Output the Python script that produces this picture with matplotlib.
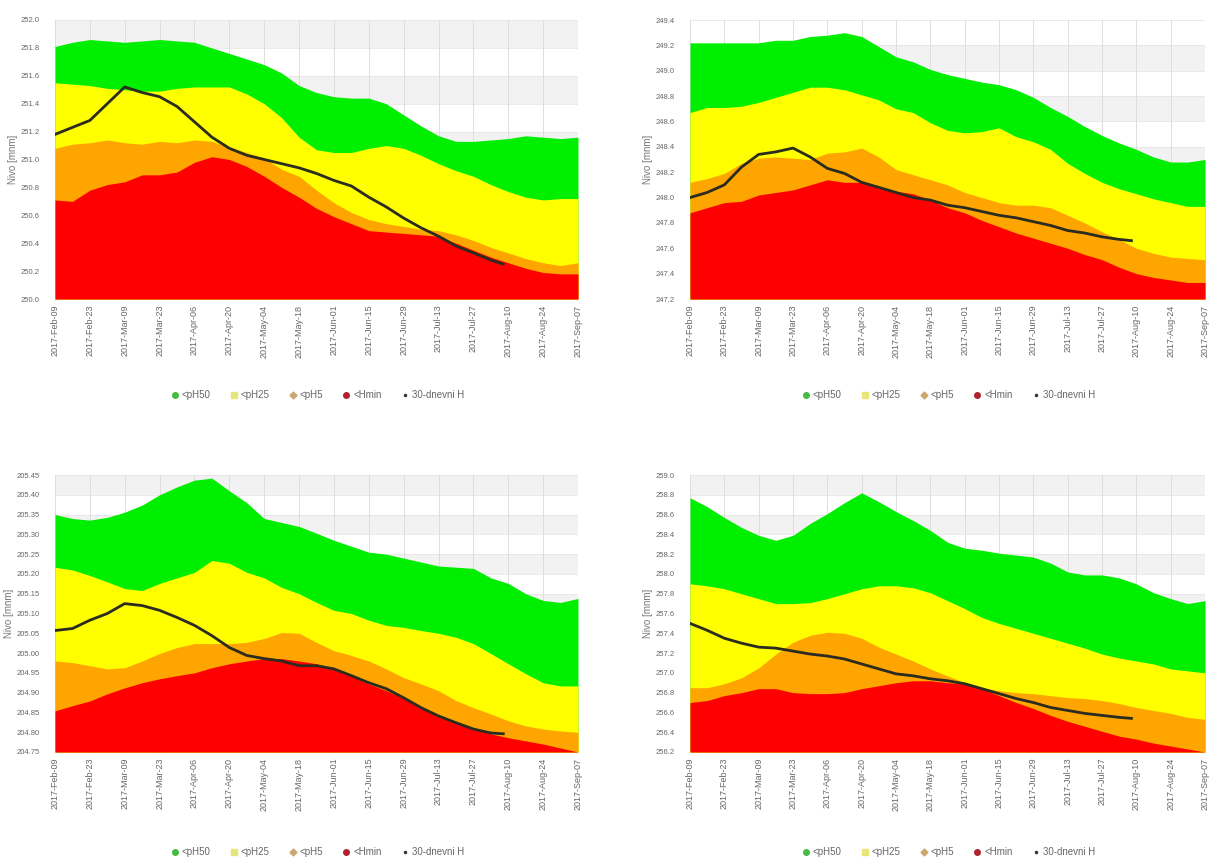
import matplotlib
matplotlib.use('Agg')
import matplotlib.pyplot as plt
from matplotlib.lines import Line2D
import numpy as np

plt.rcParams['font.family'] = ['Liberation Sans', 'DejaVu Sans']

# x os: dnevi od 2017-Feb-09, tedenski vzorci
days = np.arange(0, 211, 7)
line_days = np.append(np.arange(0, 176, 7), 180)
tick_days = np.arange(0, 211, 14)
tick_labels = ['2017-Feb-09', '2017-Feb-23', '2017-Mar-09', '2017-Mar-23', '2017-Apr-06',
               '2017-Apr-20', '2017-May-04', '2017-May-18', '2017-Jun-01', '2017-Jun-15',
               '2017-Jun-29', '2017-Jul-13', '2017-Jul-27', '2017-Aug-10', '2017-Aug-24',
               '2017-Sep-07']
series_names = ['<pH50', '<pH25', '<pH5', '<Hmin', '30-dnevni H']

# graf 1 (levo zgoraj)
p1_ph50 = [251.81, 251.84, 251.86, 251.85, 251.84, 251.85, 251.86, 251.85, 251.84, 251.80, 251.76,
           251.72, 251.68, 251.62, 251.53, 251.48, 251.45, 251.44, 251.44, 251.40, 251.32, 251.24,
           251.17, 251.13, 251.13, 251.14, 251.15, 251.17, 251.16, 251.15, 251.16]
p1_ph25 = [251.55, 251.54, 251.53, 251.51, 251.50, 251.49, 251.49, 251.51, 251.52, 251.52, 251.52,
           251.47, 251.40, 251.30, 251.16, 251.07, 251.05, 251.05, 251.08, 251.10, 251.08, 251.03,
           250.97, 250.92, 250.88, 250.82, 250.77, 250.73, 250.71, 250.72, 250.72]
p1_ph5 = [251.08, 251.11, 251.12, 251.14, 251.12, 251.11, 251.13, 251.12, 251.14, 251.13, 251.09,
          251.05, 251.01, 250.93, 250.88, 250.78, 250.69, 250.62, 250.57, 250.54, 250.52, 250.50,
          250.49, 250.46, 250.42, 250.37, 250.33, 250.29, 250.26, 250.24, 250.26]
p1_hmin = [250.71, 250.70, 250.78, 250.82, 250.84, 250.89, 250.89, 250.91, 250.98, 251.02, 251.00,
           250.95, 250.88, 250.80, 250.73, 250.65, 250.59, 250.54, 250.49, 250.48, 250.47, 250.46,
           250.45, 250.40, 250.35, 250.30, 250.26, 250.22, 250.19, 250.18, 250.18]
p1_h30 = [251.18, 251.23, 251.28, 251.40, 251.52, 251.48, 251.45, 251.38, 251.27, 251.16, 251.08,
          251.03, 251.00, 250.97, 250.94, 250.90, 250.85, 250.81, 250.73, 250.66, 250.58, 250.51,
          250.45, 250.38, 250.33, 250.28, 250.25]

# graf 2 (desno zgoraj)
p2_ph50 = [249.22, 249.22, 249.22, 249.22, 249.22, 249.24, 249.24, 249.27, 249.28, 249.30, 249.27,
           249.19, 249.11, 249.07, 249.01, 248.97, 248.94, 248.91, 248.89, 248.85, 248.79, 248.71,
           248.64, 248.56, 248.49, 248.43, 248.38, 248.32, 248.28, 248.28, 248.30]
p2_ph25 = [248.67, 248.71, 248.71, 248.72, 248.75, 248.79, 248.83, 248.87, 248.87, 248.85, 248.81,
           248.77, 248.70, 248.67, 248.59, 248.53, 248.51, 248.52, 248.55, 248.48, 248.44, 248.38,
           248.27, 248.19, 248.12, 248.07, 248.03, 247.99, 247.96, 247.93, 247.93]
p2_ph5 = [248.12, 248.15, 248.19, 248.27, 248.31, 248.32, 248.31, 248.30, 248.35, 248.36, 248.39,
          248.32, 248.22, 248.18, 248.14, 248.10, 248.04, 248.00, 247.96, 247.94, 247.94, 247.92,
          247.86, 247.80, 247.73, 247.67, 247.60, 247.56, 247.53, 247.52, 247.51]
p2_hmin = [247.88, 247.92, 247.96, 247.97, 248.02, 248.04, 248.06, 248.10, 248.14, 248.12, 248.12,
           248.08, 248.05, 248.03, 247.98, 247.92, 247.88, 247.82, 247.77, 247.72, 247.68, 247.64,
           247.60, 247.55, 247.51, 247.45, 247.40, 247.37, 247.35, 247.33, 247.33]
p2_h30 = [248.00, 248.04, 248.10, 248.24, 248.34, 248.36, 248.39, 248.32, 248.23, 248.19, 248.12,
          248.08, 248.04, 248.00, 247.98, 247.94, 247.92, 247.89, 247.86, 247.84, 247.81, 247.78,
          247.74, 247.72, 247.69, 247.67, 247.66]

# graf 3 (levo spodaj)
p3_ph50 = [205.350, 205.340, 205.336, 205.343, 205.356, 205.374, 205.400, 205.420, 205.437, 205.442,
           205.410, 205.380, 205.340, 205.330, 205.320, 205.303, 205.285, 205.270, 205.255, 205.250,
           205.240, 205.230, 205.220, 205.217, 205.214, 205.190, 205.176, 205.150, 205.133, 205.128,
           205.138]
p3_ph25 = [205.217, 205.210, 205.196, 205.180, 205.163, 205.158, 205.176, 205.190, 205.204, 205.234,
           205.227, 205.204, 205.190, 205.166, 205.150, 205.128, 205.108, 205.100, 205.083, 205.070,
           205.065, 205.057, 205.050, 205.040, 205.024, 204.999, 204.973, 204.948, 204.925, 204.917,
           204.917]
p3_ph5 = [204.980, 204.976, 204.968, 204.960, 204.963, 204.980, 204.999, 205.014, 205.024, 205.024,
          205.024, 205.027, 205.037, 205.052, 205.050, 205.027, 205.006, 204.994, 204.980, 204.960,
          204.938, 204.922, 204.905, 204.880, 204.862, 204.846, 204.829, 204.816, 204.808, 204.803,
          204.800]
p3_hmin = [204.854, 204.867, 204.879, 204.897, 204.912, 204.925, 204.935, 204.943, 204.950, 204.963,
           204.973, 204.980, 204.986, 204.986, 204.980, 204.973, 204.960, 204.943, 204.922, 204.905,
           204.887, 204.862, 204.841, 204.824, 204.808, 204.796, 204.786, 204.778, 204.770, 204.760,
           204.750]
p3_h30 = [205.057, 205.062, 205.083, 205.100, 205.125, 205.120, 205.108, 205.090, 205.070, 205.044,
          205.014, 204.994, 204.986, 204.980, 204.968, 204.968, 204.960, 204.943, 204.925, 204.910,
          204.887, 204.862, 204.841, 204.824, 204.808, 204.798, 204.796]

# graf 4 (desno spodaj)
p4_ph50 = [258.77, 258.68, 258.57, 258.47, 258.39, 258.34, 258.39, 258.51, 258.61, 258.72, 258.82,
           258.73, 258.63, 258.54, 258.44, 258.32, 258.26, 258.24, 258.21, 258.19, 258.17, 258.11,
           258.02, 257.99, 257.99, 257.96, 257.90, 257.81, 257.75, 257.70, 257.73]
p4_ph25 = [257.90, 257.88, 257.85, 257.80, 257.75, 257.70, 257.70, 257.71, 257.75, 257.80, 257.85,
           257.88, 257.88, 257.86, 257.81, 257.73, 257.65, 257.56, 257.50, 257.45, 257.40, 257.35,
           257.30, 257.25, 257.19, 257.15, 257.12, 257.09, 257.04, 257.02, 257.00]
p4_ph5 = [256.85, 256.85, 256.89, 256.95, 257.05, 257.19, 257.31, 257.38, 257.41, 257.40, 257.35,
          257.26, 257.19, 257.12, 257.04, 256.97, 256.90, 256.85, 256.82, 256.80, 256.79, 256.77,
          256.75, 256.74, 256.72, 256.69, 256.65, 256.62, 256.59, 256.55, 256.53]
p4_hmin = [256.70, 256.72, 256.77, 256.80, 256.84, 256.84, 256.80, 256.79, 256.79, 256.80, 256.84,
           256.87, 256.90, 256.92, 256.92, 256.90, 256.89, 256.84, 256.77, 256.70, 256.64, 256.57,
           256.51, 256.46, 256.41, 256.36, 256.33, 256.29, 256.26, 256.23, 256.20]
p4_h30 = [257.50, 257.43, 257.35, 257.30, 257.26, 257.25, 257.22, 257.19, 257.17, 257.14, 257.09,
          257.04, 256.99, 256.97, 256.94, 256.92, 256.89, 256.84, 256.79, 256.74, 256.70, 256.65,
          256.62, 256.59, 256.57, 256.55, 256.54]

colors = ['#00ee00', '#ffff00', '#ffa500', '#ff0000', '#2b2b1f']
W, H = 1210, 857

# (levo, zgoraj, desno, spodaj) v pikslih, y min, y max, korak, format
panels = [
    ((55, 20, 578, 299), 250.0, 252.0, 0.2, '%.1f', [p1_ph50, p1_ph25, p1_ph5, p1_hmin], p1_h30),
    ((690, 20, 1205, 299), 247.2, 249.4, 0.2, '%.1f', [p2_ph50, p2_ph25, p2_ph5, p2_hmin], p2_h30),
    ((55, 475, 578, 752), 204.75, 205.45, 0.05, '%.2f', [p3_ph50, p3_ph25, p3_ph5, p3_hmin], p3_h30),
    ((690, 475, 1205, 752), 256.2, 259.0, 0.2, '%.1f', [p4_ph50, p4_ph25, p4_ph5, p4_hmin], p4_h30),
]

fig = plt.figure(figsize=(W / 100, H / 100), dpi=100)

for (l, t, r, b), ymin, ymax, step, fmt, areas, h30 in panels:
    ax = fig.add_axes([l / W, (H - b) / H, (r - l) / W, (b - t) / H])
    yt = np.round(np.arange(ymin, ymax + step / 2, step), 3)
    # izmenicni pasovi v ozadju
    for i in range(len(yt) - 1):
        if i % 2 == 1:
            ax.axhspan(yt[i], yt[i + 1], color='#f2f2f2', lw=0, zorder=0)
    for yv in yt:
        ax.axhline(yv, color='#e6e6e6', lw=0.6, zorder=0.5)
    for xv in tick_days:
        ax.axvline(xv, color='#dddddd', lw=0.7, zorder=0.5)

    for vals, c in zip(areas, colors[:4]):
        ax.fill_between(days, ymin, vals, color=c, lw=0, zorder=1)
    ax.plot(line_days, h30, color=colors[4], lw=2, zorder=3)

    ax.set_xlim(0, 210)
    ax.set_ylim(ymin, ymax)
    ax.set_yticks(yt)
    ax.set_yticklabels([fmt % v for v in yt])
    ax.set_xticks(tick_days)
    ax.set_xticklabels(tick_labels, rotation=90)
    ax.tick_params(axis='both', length=0, labelcolor='#666666')
    ax.tick_params(axis='x', pad=4, labelsize=6.5)
    ax.tick_params(axis='y', pad=11, labelsize=5.5)
    for s in ax.spines.values():
        s.set_visible(False)
    ax.set_ylabel('Nivo [mnm]', fontsize=7, color='#777777', labelpad=2)

    handles = [
        Line2D([], [], ls='none', marker='o', ms=4, color='#44bb44'),
        Line2D([], [], ls='none', marker='s', ms=4, color='#e6e67a'),
        Line2D([], [], ls='none', marker='D', ms=3.5, color='#c8a870'),
        Line2D([], [], ls='none', marker='o', ms=4, color='#b02030'),
        Line2D([], [], ls='none', marker='.', ms=3, color='#333333'),
    ]
    leg_px = 395 if b < 400 else 852
    leg_y = -(leg_px - b) / (b - t)
    leg = ax.legend(handles, series_names, loc='center', bbox_to_anchor=(0.5, leg_y),
                    ncol=5, frameon=False, fontsize=7, handletextpad=0.1,
                    columnspacing=1.8, handlelength=1.2)
    for txt in leg.get_texts():
        txt.set_color('#666666')

fig.savefig('out.png', dpi=100)
